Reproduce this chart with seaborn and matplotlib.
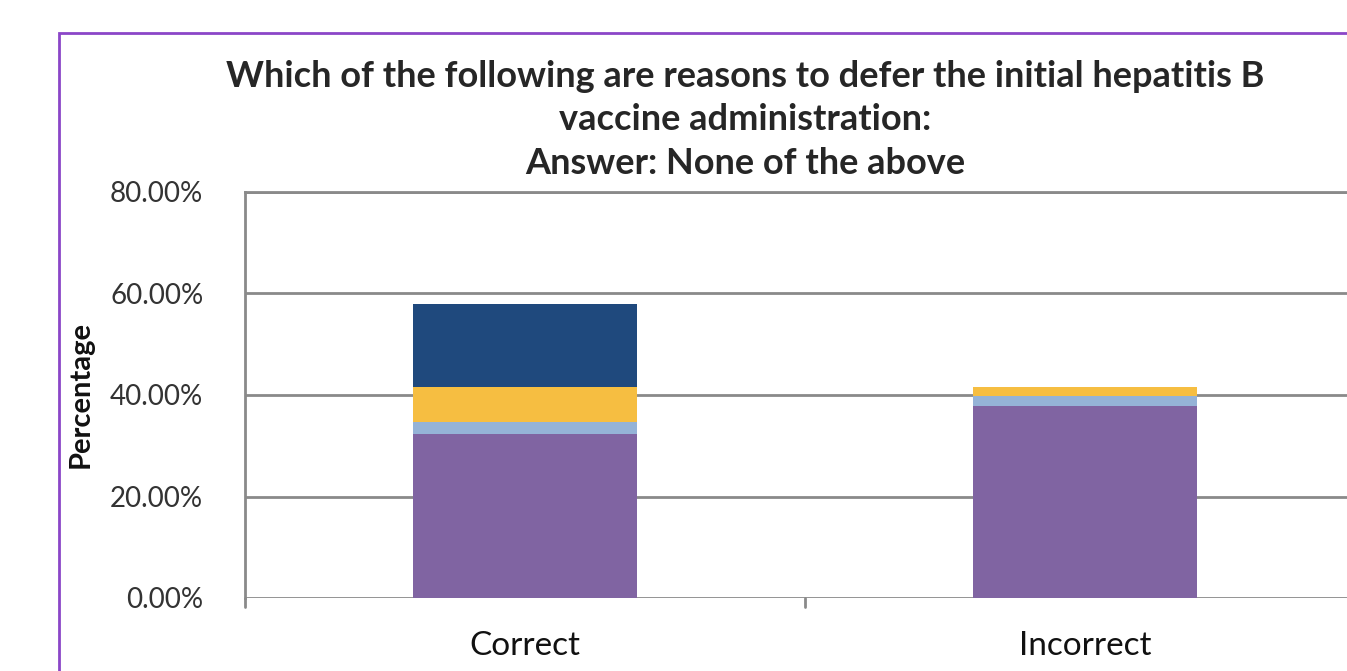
import pandas as pd
import numpy as np
import matplotlib.pyplot as plt
import matplotlib.patches as mpatches
import seaborn as sns

# ------------------------------------------------------------
# Donnees
# ------------------------------------------------------------
categories = ["Correct", "Incorrect"]
seg_purple = [32.4, 37.8]
seg_lightblue = [2.3, 2.1]
seg_yellow = [6.9, 1.6]
seg_darkblue = [16.4, 0.0]

yticks = [0, 20, 40, 60, 80]
ytick_labels = ["0.00%", "20.00%", "40.00%", "60.00%", "80.00%"]

title = ("Which of the following are reasons to defer the initial hepatitis B\n"
         "vaccine administration:\n"
         "Answer: None of the above")

colors = {"purple": "#8064A2", "lightblue": "#95B3D7",
          "yellow": "#F6BE41", "darkblue": "#1F497D"}

# cumuls pour empiler les barres
layers = [seg_purple, seg_lightblue, seg_yellow, seg_darkblue]
cum = np.cumsum(np.array(layers), axis=0)
df = pd.DataFrame({"cat": categories,
                   "purple": cum[0], "lightblue": cum[1],
                   "yellow": cum[2], "darkblue": cum[3]})

sns.set_style("white")
plt.rcParams['font.family'] = ['Lato', 'DejaVu Sans']

fig = plt.figure(figsize=(13.47, 6.71), dpi=100)
ax = fig.add_axes([245/1347, 1 - 598/671, 1120/1347, (598-192)/671])

for key in ["darkblue", "yellow", "lightblue", "purple"]:
    sns.barplot(data=df, x="cat", y=key, color=colors[key], width=0.4,
                saturation=1, linewidth=0, ax=ax, zorder=3)

ax.set_xlim(-0.5, 1.5)
ax.set_ylim(0, 80)
ax.set_yticks(yticks)
ax.set_yticklabels(ytick_labels, fontsize=20, color="#333333")
ax.tick_params(axis="y", length=0, pad=30)
ax.set_xticks([0, 1])
ax.set_xticklabels(categories, fontsize=24, color="#111111")
ax.tick_params(axis="x", length=0, pad=24)
ax.set_xlabel("")
ax.set_ylabel("")

ax.grid(axis="y", color="#8a8a8a", linewidth=2, zorder=0)
for side in ["right", "bottom"]:
    ax.spines[side].set_visible(False)
ax.spines["left"].set_color("#8a8a8a")
ax.spines["left"].set_linewidth(2)
ax.spines["top"].set_color("#8a8a8a")
ax.spines["top"].set_linewidth(2)

# petits traits de graduation sur l'axe x
for xv in [-0.5, 0.5]:
    ax.plot([xv, xv], [0, -1.8], color="#8a8a8a", linewidth=2, clip_on=False)

fig.text(81/1347, 1 - 395/671, "Percentage", rotation=90, ha="center",
         va="center", fontsize=21, fontweight="bold", color="#111111")

fig.text(745/1347, 1 - 120/671, title, ha="center", va="center",
         fontsize=26, fontweight="bold", linespacing=1.4)

# cadre violet
fig.patches.append(mpatches.Rectangle((59/1347, -0.1), 1.2, 1 - 33/671 + 0.1,
                                      transform=fig.transFigure, fill=False,
                                      edgecolor="#8B46C8", linewidth=2))

fig.savefig("out.png", dpi=100)
